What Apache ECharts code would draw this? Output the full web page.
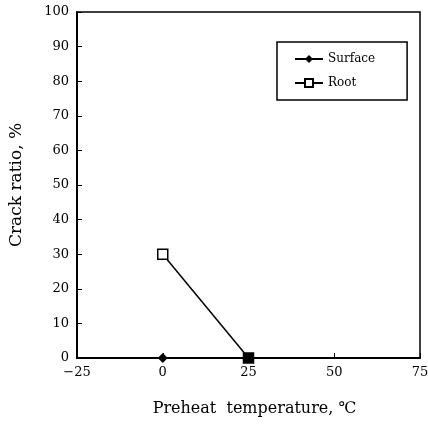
<!DOCTYPE html>
<html><head><meta charset="utf-8">
<script src="https://cdn.jsdelivr.net/npm/echarts@6/dist/echarts.min.js"></script>
<style>html,body{margin:0;padding:0;background:#fff}#c{width:428px;height:427px}</style>
</head><body><div id="c"></div>
<script>
const xTicks = [-25, 0, 25, 50, 75];
const surfaceX = [0, 25];
const surfaceY = [0, 0];
const rootX = [0, 25];
const rootY = [30, 0];
const font = '"DejaVu Serif", "Liberation Serif", serif';
const chart = echarts.init(document.getElementById('c'));
chart.setOption({
  animation: false,
  backgroundColor: '#fff',
  grid: {left: 77, right: 8, top: 12, bottom: 69, show: true, borderColor: '#000', borderWidth: 1.5,
    outerBoundsMode: 'none', containLabel: false},
  xAxis: {type: 'value', min: -25, max: 75, interval: 25,
    name: 'Preheat  temperature, ℃', nameLocation: 'middle', nameGap: 43,
    nameTextStyle: {fontFamily: font, fontSize: 16, color: '#000', padding: [0, 0, 0, 12]},
    axisLine: {onZero: false, lineStyle: {color: '#000', width: 2}},
    axisTick: {inside: true, length: 5, lineStyle: {color: '#000'}},
    axisLabel: {fontFamily: font, fontSize: 13, color: '#000', margin: 8,
      formatter: v => v < 0 ? '\u2212' + Math.abs(v) : String(v)},
    splitLine: {show: false}},
  yAxis: {type: 'value', min: 0, max: 100, interval: 10,
    name: 'Crack ratio, %', nameLocation: 'middle', nameGap: 52,
    nameTextStyle: {fontFamily: font, fontSize: 17, color: '#000'},
    axisLine: {show: true, onZero: false, lineStyle: {color: '#000', width: 2}},
    axisTick: {inside: true, length: 5, lineStyle: {color: '#000'}},
    axisLabel: {fontFamily: font, fontSize: 13, color: '#000', margin: 8},
    splitLine: {show: false}},
  legend: {orient: 'vertical', left: 277, top: 42, width: 130,
    padding: [11, 32, 11, 17], itemGap: 12, itemWidth: 28, itemHeight: 10,
    borderColor: '#000', borderWidth: 1.5,
    textStyle: {fontFamily: font, fontSize: 12, color: '#000'},
    data: ['Surface', 'Root']},
  series: [
    {name: 'Surface', type: 'line', data: surfaceX.map((x, i) => [x, surfaceY[i]]),
      symbol: 'diamond', symbolSize: 10, itemStyle: {color: '#000'},
      lineStyle: {color: '#000', width: 1.5}, z: 3},
    {name: 'Root', type: 'line',
      data: rootX.map((x, i) => i === 1 ? {value: [x, rootY[i]], itemStyle: {color: '#000'}} : [x, rootY[i]]),
      symbol: 'rect', symbolSize: 10, itemStyle: {color: '#fff', borderColor: '#000', borderWidth: 1.5},
      lineStyle: {color: '#000', width: 1.5}, z: 4}
  ]
});
</script></body></html>
